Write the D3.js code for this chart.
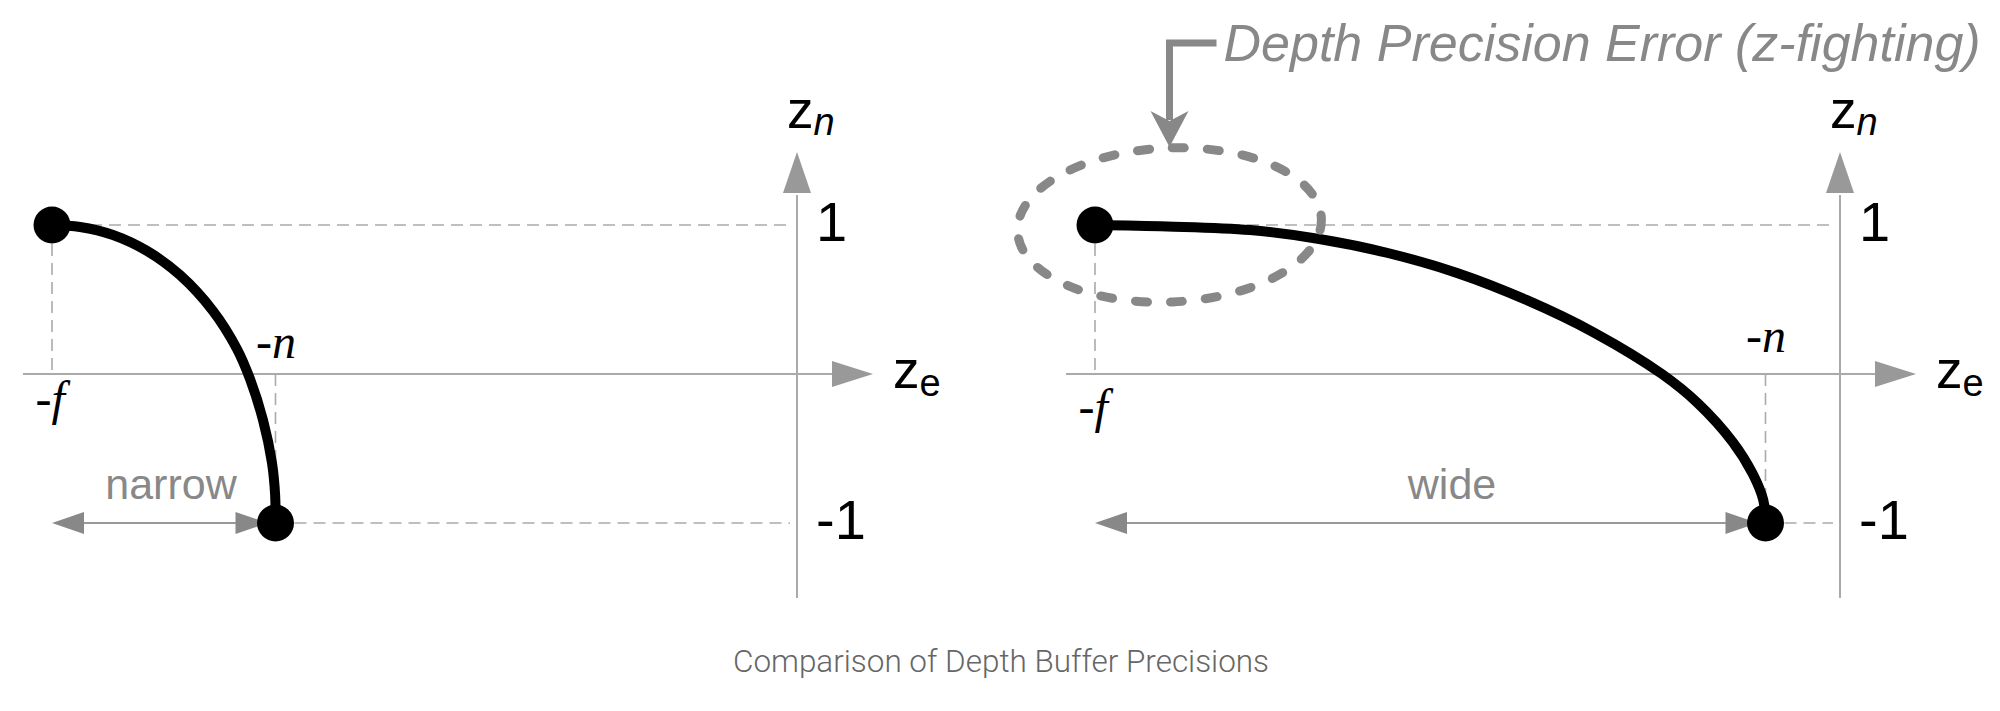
<!DOCTYPE html>
<html><head><meta charset="utf-8">
<script src="https://cdn.jsdelivr.net/npm/d3@7"></script>
<style>html,body{margin:0;padding:0;background:#fff;} svg{display:block;}</style>
</head><body>
<svg id="chart" width="2000" height="711"></svg>
<script>
// ---------------- DATA ----------------
const panelNames   = ["narrow", "wide"];
const farPlane     = [-10, -10];   // -f position on z_e
const nearPlane    = [-7, -1];     // -n position on z_e
const znTicks      = [1, -1];
const farLabel     = "-f";
const nearLabel    = "-n";
// depth curves z_n(z_e)
const narrowZe = [-10, -9.624, -9.181, -8.725, -8.282, -7.839, -7.517, -7.342, -7.168, -7.047, -7.005, -7];
const narrowZn = [1, 0.987, 0.933, 0.826, 0.664, 0.423, 0.168, -0.034, -0.309, -0.597, -0.812, -1];
const wideZe   = [-10, -9.03, -7.92, -6.99, -6.07, -5.14, -4.21, -3.29, -2.39, -1.91, -1.44, -1.17, -1.03, -1];
const wideZn   = [1, 0.99, 0.966, 0.906, 0.812, 0.678, 0.497, 0.275, 0, -0.195, -0.456, -0.671, -0.846, -1];
const titleText      = "Comparison of Depth Buffer Precisions";
const annotationText = "Depth Precision Error (z-fighting)";

// ---------------- LAYOUT ----------------
const SANS  = "'Liberation Sans', Arimo, Arial, Helvetica, sans-serif";
const SERIF = "'Liberation Serif', 'Times New Roman', 'DejaVu Serif', serif";
const svg = d3.select("#chart");
const yScale = d3.scaleLinear().domain([-1, 1]).range([523, 225]);
const panelLayout = [
  {x0: 52,   x1: 797,  fPad: 7,  nPad: 16, spanLabelX: 171},
  {x0: 1095, x1: 1840, fPad: 15, nPad: 22, spanLabelX: 1452}
];
const curves = [
  narrowZe.map((z, i) => ({ze: z, zn: narrowZn[i]})),
  wideZe.map((z, i) => ({ze: z, zn: wideZn[i]}))
];
const axisColor = "#aaa", arrowFill = "#999", guideColor = "#aaa", spanColor = "#888";

panelNames.forEach((name, p) => {
  const L = panelLayout[p];
  const x = d3.scaleLinear().domain([farPlane[p], 0]).range([L.x0, L.x1]);
  const g = svg.append("g");
  const xa = x(0), ya = yScale(0);

  // guide dashed lines
  const guides = [
    [x(farPlane[p]), yScale(1), xa - 7, yScale(1)],
    [x(nearPlane[p]), yScale(-1), xa - 7, yScale(-1)],
    [x(farPlane[p]), yScale(1), x(farPlane[p]), ya],
    [x(nearPlane[p]), ya, x(nearPlane[p]), yScale(-1)]
  ];
  g.selectAll("line.guide").data(guides).join("line").attr("class","guide")
    .attr("x1", d => d[0]).attr("y1", d => d[1]).attr("x2", d => d[2]).attr("y2", d => d[3])
    .attr("stroke", guideColor).attr("stroke-width", 1.6).attr("stroke-dasharray", "12 7");

  // axes lines
  g.append("line").attr("x1", x(farPlane[p]) - 29).attr("x2", xa + 38).attr("y1", ya).attr("y2", ya)
    .attr("stroke", axisColor).attr("stroke-width", 2);
  g.append("line").attr("x1", xa).attr("x2", xa).attr("y1", yScale(-1) + 75).attr("y2", yScale(1) - 30)
    .attr("stroke", axisColor).attr("stroke-width", 2);
  // axis arrowheads
  g.append("path").attr("d", `M${xa+35},${ya-13} L${xa+76},${ya} L${xa+35},${ya+13} Z`).attr("fill", arrowFill);
  g.append("path").attr("d", `M${xa-14},${yScale(1)-32} L${xa},${yScale(1)-73} L${xa+14},${yScale(1)-32} Z`).attr("fill", arrowFill);

  // tick labels via d3 axes
  const yAxis = d3.axisRight(yScale).tickValues(znTicks).tickSize(0).tickPadding(19).tickFormat(d3.format("d"));
  const ya_g = g.append("g").attr("transform", `translate(${xa},0)`).call(yAxis);
  ya_g.select(".domain").remove();
  ya_g.attr("font-family", null).attr("font-size", null);
  ya_g.selectAll("text").style("font-family", SANS).style("font-size", "56px")
    .attr("fill", "#000").attr("dy", "0.27em").text(d => d < 0 ? "-" + Math.abs(d) : d);

  const fAxis = d3.axisBottom(x).tickValues([farPlane[p]]).tickSize(0).tickPadding(L.fPad).tickFormat(() => farLabel);
  const fa_g = g.append("g").attr("transform", `translate(0,${ya})`).call(fAxis);
  fa_g.select(".domain").remove();
  fa_g.attr("font-family", null).attr("font-size", null);
  fa_g.selectAll("text").style("font-family", SERIF).style("font-style", "italic")
    .style("font-size", "48px").attr("fill", "#000").attr("dx", "-0.05em");

  const nAxis = d3.axisTop(x).tickValues([nearPlane[p]]).tickSize(0).tickPadding(L.nPad).tickFormat(() => nearLabel);
  const na_g = g.append("g").attr("transform", `translate(0,${ya})`).call(nAxis);
  na_g.select(".domain").remove();
  na_g.attr("font-family", null).attr("font-size", null);
  na_g.selectAll("text").style("font-family", SERIF).style("font-style", "italic")
    .style("font-size", "48px").attr("fill", "#000");

  // axis titles z_n and z_e
  const zn = g.append("text").attr("x", xa - 10).attr("y", yScale(1) - 97)
    .style("font-family", SANS).style("font-size", "53px").attr("fill", "#000");
  zn.append("tspan").text("z");
  zn.append("tspan").style("font-size", "38px").style("font-style", "italic").attr("dy", 7).text("n");
  const ze = g.append("text").attr("x", xa + 96).attr("y", ya + 14)
    .style("font-family", SANS).style("font-size", "53px").attr("fill", "#000");
  ze.append("tspan").text("z");
  ze.append("tspan").style("font-size", "38px").attr("dy", 8).text("e");

  // span arrow (narrow / wide)
  const sy = yScale(-1), sx0 = x(farPlane[p]), sx1 = x(nearPlane[p]);
  g.append("line").attr("x1", sx0 + 20).attr("x2", sx1 - 20).attr("y1", sy).attr("y2", sy)
    .attr("stroke", "#999").attr("stroke-width", 2);
  g.append("path").attr("d", `M${sx0},${sy} L${sx0+32},${sy-11} L${sx0+32},${sy+11} Z`).attr("fill", spanColor);
  g.append("path").attr("d", `M${sx1-8},${sy} L${sx1-40},${sy-11} L${sx1-40},${sy+11} Z`).attr("fill", spanColor);
  g.append("text").attr("x", L.spanLabelX).attr("y", sy - 24).attr("text-anchor", "middle")
    .style("font-family", SANS).style("font-size", "43px").attr("fill", spanColor)
    .text(name);

  // curve
  const line = d3.line().x(d => x(d.ze)).y(d => yScale(d.zn)).curve(d3.curveCatmullRom.alpha(0.5));
  g.append("path").datum(curves[p]).attr("d", line).attr("fill", "none")
    .attr("stroke", "#000").attr("stroke-width", 10).attr("stroke-linecap", "round");

  // end dots
  g.selectAll("circle.end").data([[farPlane[p], 1], [nearPlane[p], -1]]).join("circle").attr("class", "end")
    .attr("cx", d => x(d[0])).attr("cy", d => yScale(d[1])).attr("r", 18.5).attr("fill", "#000");

  // annotation on the wide panel
  if (p === 1) {
    const cx = x(-9), cy = yScale(1);
    g.append("ellipse").attr("cx", cx).attr("cy", cy).attr("rx", 152).attr("ry", 77)
      .attr("transform", `rotate(-2.5,${cx},${cy})`)
      .attr("fill", "none").attr("stroke", "#888").attr("stroke-width", 9)
      .attr("stroke-dasharray", "12 23").attr("stroke-linecap", "round");
    g.append("path").attr("d", `M${cx+47},${cy-182} H${cx} V${cy-105}`)
      .attr("fill", "none").attr("stroke", "#888").attr("stroke-width", 7);
    g.append("path").attr("d", `M${cx},${cy-78} L${cx-19},${cy-114} L${cx},${cy-104} L${cx+19},${cy-114} Z`)
      .attr("fill", "#888");
    g.append("text").attr("x", cx + 54).attr("y", cy - 164)
      .style("font-family", SANS).style("font-style", "italic")
      .style("font-size", "52px").attr("fill", "#888").text(annotationText);
  }
});

// title
svg.append("text").attr("x", 1001).attr("y", 672).attr("text-anchor", "middle")
  .style("font-family", "Roboto, 'Liberation Sans', sans-serif").style("font-weight", 300)
  .style("font-size", "31px").attr("fill", "#666")
  .attr("textLength", 536).attr("lengthAdjust", "spacingAndGlyphs").text(titleText);
</script>
</body></html>
